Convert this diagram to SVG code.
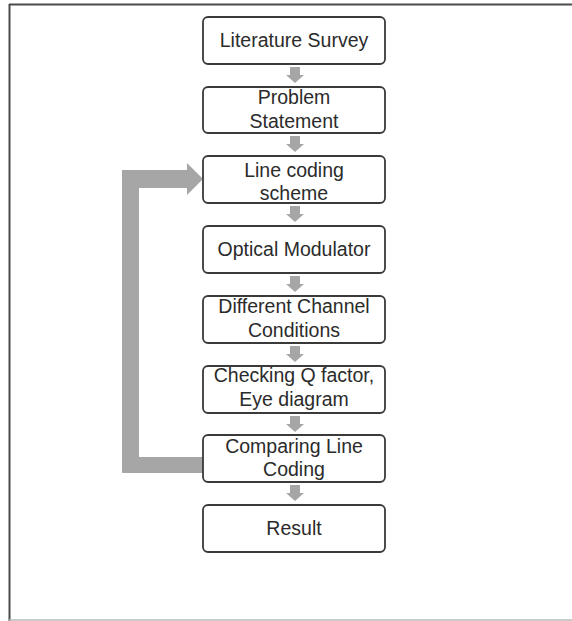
<svg xmlns="http://www.w3.org/2000/svg" width="572" height="621" viewBox="0 0 572 621">
  <style>
    .box { fill: #ffffff; stroke: #3a3a3a; stroke-width: 1.8; }
    .lbl { font-family: "Liberation Sans", Arial, sans-serif; font-size: 19.5px; fill: #2b2b2b; text-anchor: middle; }
    .flow { fill: #a6a6a6; stroke: none; }
  </style>
  <defs>
    <!-- small block arrow pointing down, origin at top centre -->
    <path id="down" d="M -5 0 H 5 V 8 H 9 L 0 16 L -9 8 H -5 Z"/>
  </defs>

  <rect x="0" y="0" width="572" height="621" fill="#ffffff"/>

  <!-- page frame -->
  <g id="frame" fill="none">
    <line x1="9" y1="4.5" x2="572" y2="4.5" stroke="#4a4a4a" stroke-width="2"/>
    <line x1="9.5" y1="4" x2="9.5" y2="621" stroke="#4a4a4a" stroke-width="2"/>
    <line x1="9" y1="620" x2="572" y2="620" stroke="#b8b8b8" stroke-width="1.5"/>
  </g>

  <!-- connectors -->
  <g id="connectors" class="flow">
    <use href="#down" x="295" y="67"/>
    <use href="#down" x="295" y="136"/>
    <use href="#down" x="295" y="206"/>
    <use href="#down" x="295" y="276"/>
    <use href="#down" x="295" y="346"/>
    <use href="#down" x="295" y="416"/>
    <use href="#down" x="295" y="485"/>
    <!-- feedback loop from comparison back to line coding -->
    <path d="M 122 170 H 187 V 163 L 203 179 L 187 195 V 188 H 139 V 457 H 203 V 473 H 122 Z"/>
  </g>

  <g id="n1">
    <rect class="box" x="203" y="17" width="182" height="47" rx="5"/>
    <text class="lbl" x="294" y="47">Literature Survey</text>
  </g>
  <g id="n2">
    <rect class="box" x="203" y="87" width="182" height="46" rx="5"/>
    <text class="lbl" x="294" y="104">Problem</text>
    <text class="lbl" x="294" y="128">Statement</text>
  </g>
  <g id="n3">
    <rect class="box" x="203" y="156" width="182" height="47" rx="5"/>
    <text class="lbl" x="294" y="177">Line coding</text>
    <text class="lbl" x="294" y="200">scheme</text>
  </g>
  <g id="n4">
    <rect class="box" x="203" y="226" width="182" height="47" rx="5"/>
    <text class="lbl" x="294" y="256">Optical Modulator</text>
  </g>
  <g id="n5">
    <rect class="box" x="203" y="296" width="182" height="47" rx="5"/>
    <text class="lbl" x="294" y="313">Different Channel</text>
    <text class="lbl" x="294" y="337">Conditions</text>
  </g>
  <g id="n6">
    <rect class="box" x="203" y="366" width="182" height="47" rx="5"/>
    <text class="lbl" x="294" y="382">Checking Q factor,</text>
    <text class="lbl" x="294" y="406">Eye diagram</text>
  </g>
  <g id="n7">
    <rect class="box" x="203" y="435" width="182" height="47" rx="5"/>
    <text class="lbl" x="294" y="453">Comparing Line</text>
    <text class="lbl" x="294" y="476">Coding</text>
  </g>
  <g id="n8">
    <rect class="box" x="203" y="505" width="182" height="47" rx="5"/>
    <text class="lbl" x="294" y="535">Result</text>
  </g>
</svg>
